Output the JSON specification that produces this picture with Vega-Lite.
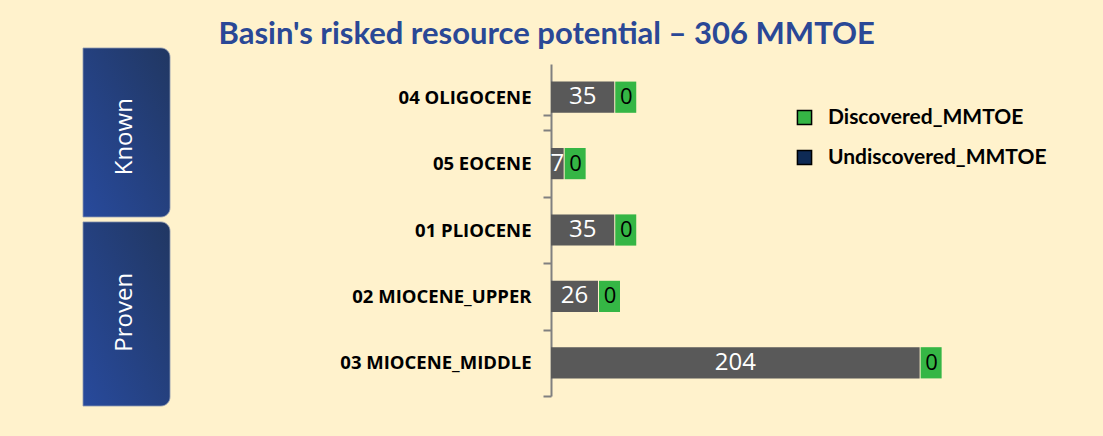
{
  "$schema": "https://vega.github.io/schema/vega-lite/v6.json",
  "background": "#FFF2CC",
  "padding": {"left": 82, "top": 18, "right": 37, "bottom": 39},
  "title": {
    "text": "Basin's risked resource potential – 306 MMTOE",
    "font": "Lato",
    "fontSize": 31,
    "fontWeight": "bold",
    "color": "#2A4896",
    "anchor": "start",
    "dx": 136,
    "dy": 7,
    "offset": 4
  },
  "datasets": {
    "formations": [
      {"Formation": "04 OLIGOCENE", "Undiscovered_MMTOE": 35, "Discovered_MMTOE": 0},
      {"Formation": "05 EOCENE", "Undiscovered_MMTOE": 7, "Discovered_MMTOE": 0},
      {"Formation": "01 PLIOCENE ", "Undiscovered_MMTOE": 35, "Discovered_MMTOE": 0},
      {"Formation": "02 MIOCENE_UPPER", "Undiscovered_MMTOE": 26, "Discovered_MMTOE": 0},
      {"Formation": "03 MIOCENE_MIDDLE", "Undiscovered_MMTOE": 204, "Discovered_MMTOE": 0}
    ],
    "groups": [
      {"Group": "Known"},
      {"Group": "Proven"}
    ]
  },
  "spacing": 168,
  "hconcat": [
    {
      "width": 87,
      "height": 332,
      "data": {"name": "groups"},
      "encoding": {
        "y": {"field": "Group", "type": "nominal", "axis": null, "sort": ["Known", "Proven"], "scale": {"paddingInner": 0.03, "paddingOuter": 0}}
      },
      "layer": [
        {
          "transform": [{"filter": "datum.Group === 'Known'"}],
          "mark": {"type": "rect", "yOffset": -16, "y2Offset": -10.5, "cornerRadiusTopRight": 9, "cornerRadiusBottomRight": 9, "stroke": "#8C97B0", "strokeWidth": 0.8,
            "color": {"gradient": "linear", "x1": 0, "y1": 1, "x2": 1, "y2": 0, "stops": [{"offset": 0, "color": "#284A9C"}, {"offset": 1, "color": "#213762"}]}},
          "encoding": {
            "x": {"value": 0}, "x2": {"value": "width"},
            "y": {"field": "Group", "type": "nominal", "bandPosition": 0},
            "y2": {"field": "Group", "bandPosition": 1}
          }
        },
        {
          "transform": [{"filter": "datum.Group === 'Proven'"}],
          "mark": {"type": "rect", "yOffset": -10.6, "y2Offset": 10, "cornerRadiusTopRight": 9, "cornerRadiusBottomRight": 9, "stroke": "#8C97B0", "strokeWidth": 0.8,
            "color": {"gradient": "linear", "x1": 0, "y1": 1, "x2": 1, "y2": 0, "stops": [{"offset": 0, "color": "#284A9C"}, {"offset": 1, "color": "#213762"}]}},
          "encoding": {
            "x": {"value": 0}, "x2": {"value": "width"},
            "y": {"field": "Group", "type": "nominal", "bandPosition": 0},
            "y2": {"field": "Group", "bandPosition": 1}
          }
        },
        {
          "transform": [{"filter": "datum.Group === 'Known'"}],
          "mark": {"type": "text", "angle": 270, "font": "Open Sans", "fontSize": 24, "color": "white", "align": "center", "baseline": "middle", "yOffset": -9},
          "encoding": {"text": {"field": "Group"}, "x": {"value": 42}}
        },
        {
          "transform": [{"filter": "datum.Group === 'Proven'"}],
          "mark": {"type": "text", "angle": 270, "font": "Open Sans", "fontSize": 24, "color": "white", "align": "center", "baseline": "middle", "yOffset": -2},
          "encoding": {"text": {"field": "Group"}, "x": {"value": 42}}
        }
      ]
    },
    {
      "width": 515,
      "height": 332,
      "data": {"name": "formations"},
      "encoding": {
        "y": {
          "field": "Formation",
          "type": "nominal",
          "sort": ["04 OLIGOCENE", "05 EOCENE", "01 PLIOCENE ", "02 MIOCENE_UPPER", "03 MIOCENE_MIDDLE"],
          "scale": {"paddingInner": 0.53, "paddingOuter": 0.265},
          "axis": {
            "title": null,
            "labelFont": "Open Sans",
            "labelFontSize": 18.5,
            "labelFontWeight": "bold",
            "labelColor": "#000000",
            "labelPadding": 12,
            "labelLimit": 300,
            "labelOffset": -33.2,
            "domainColor": "#808080",
            "domainWidth": 2,
            "tickColor": "#808080",
            "tickWidth": 2,
            "tickSize": 8,
            "tickOffset": 33.2,
            "tickExtra": true,
            "grid": false
          }
        }
      },
      "layer": [
        {
          "mark": {"type": "bar", "color": "#595959"},
          "encoding": {
            "x": {"field": "Undiscovered_MMTOE", "type": "quantitative", "axis": null, "scale": {"domain": [0, 285], "nice": false}}
          }
        },
        {
          "mark": {"type": "bar", "xOffset": 1, "x2Offset": 22},
          "encoding": {
            "x": {"field": "Undiscovered_MMTOE", "type": "quantitative"},
            "x2": {"field": "Undiscovered_MMTOE"},
            "color": {
              "datum": "Discovered_MMTOE",
              "type": "nominal",
              "scale": {"domain": ["Discovered_MMTOE", "Undiscovered_MMTOE"], "range": ["#35B645", "#0E2A55"]},
              "legend": {
                "title": null,
                "orient": "none",
                "legendX": 711,
                "legendY": 43,
                "symbolType": "square",
                "symbolSize": 200,
                "symbolStrokeColor": "#000000",
                "symbolStrokeWidth": 1.5,
                "symbolOpacity": 1,
                "labelFont": "Lato",
                "labelFontSize": 21,
                "labelFontWeight": "bold",
                "labelColor": "#000000",
                "labelOffset": 13,
                "labelLimit": 400,
                "rowPadding": 18
              }
            }
          }
        },
        {
          "transform": [{"calculate": "datum.Undiscovered_MMTOE / 2", "as": "LabelPos"}],
          "mark": {"type": "text", "font": "Open Sans", "fontSize": 24, "color": "white", "align": "center", "baseline": "middle"},
          "encoding": {
            "x": {"field": "LabelPos", "type": "quantitative"},
            "text": {"field": "Undiscovered_MMTOE", "type": "quantitative"}
          }
        },
        {
          "mark": {"type": "text", "font": "Open Sans", "fontSize": 22, "color": "#000000", "align": "center", "baseline": "middle", "dx": 12},
          "encoding": {
            "x": {"field": "Undiscovered_MMTOE", "type": "quantitative"},
            "text": {"field": "Discovered_MMTOE", "type": "quantitative"}
          }
        }
      ]
    }
  ],
  "config": {"view": {"stroke": null}}
}
